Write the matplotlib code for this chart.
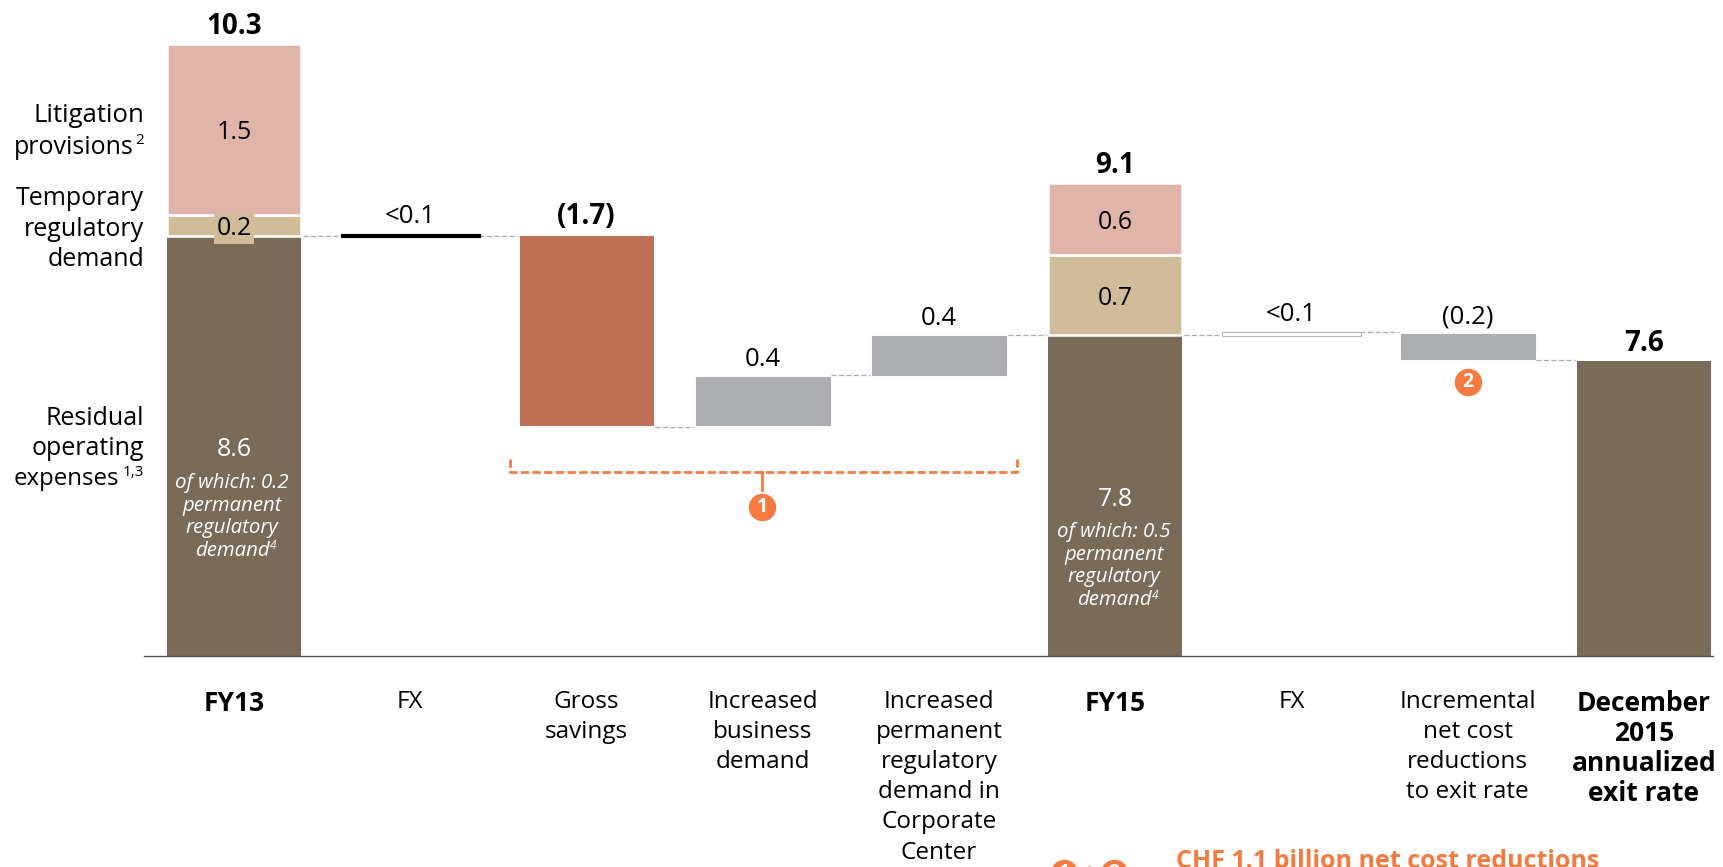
import matplotlib
matplotlib.use('Agg')
import matplotlib.pyplot as plt
from matplotlib.transforms import Affine2D

plt.rcParams['font.family'] = ['Open Sans', 'DejaVu Sans']

# Donnees (axe tronque, la base n'est pas a zero)
positions = [0, 1, 2, 3, 4, 5, 6, 7, 8]
tick_labels = ['FY13', 'FX', 'Gross\nsavings', 'Increased\nbusiness\ndemand',
               'Increased\npermanent\nregulatory\ndemand in\nCorporate\nCenter',
               'FY15', 'FX', 'Incremental\nnet cost\nreductions\nto exit rate',
               'December\n2015\nannualized\nexit rate']
tick_bold = [True, False, False, False, False, True, False, False, True]

# Barres empilees : FY13, FY15, sortie decembre 2015
stack_pos = [0, 5, 8]
residual = [8.60, 7.72, 7.49]
temporary = [0.18, 0.71, 0.0]
litigation = [1.52, 0.64, 0.0]

# Barres de variation
step_pos = [1, 2, 3, 4, 6, 7]
step_bottom = [8.585, 6.92, 6.92, 7.37, 7.71, 7.51]
step_top = [8.615, 8.60, 7.35, 7.71, 7.745, 7.73]
step_colors = ['#000000', '#BF7057', '#AEAFB2', '#AEAFB2', '#FFFFFF', '#AEAFB2']
step_labels = ['<0.1', '(1.7)', '0.4', '0.4', '<0.1', '(0.2)']

# Pointilles entre barres : position de depart et niveau
link_pos = [0, 1, 2, 3, 4, 5, 6, 7]
link_level = [8.60, 8.60, 6.91, 7.37, 7.72, 7.72, 7.745, 7.50]

BROWN = '#7A6A58'
PINK = '#E0B4A8'
TAN = '#D0BC98'
ORANGE = '#F47A3F'

# 1 unite = 113 px, pas d'un categorie = 176.25 px
fig = plt.figure(figsize=(17.24, 8.67), dpi=100)
ax = fig.add_axes([0, 0, 1, 1])
ax.set_xlim(-234 / 176.25, (1724 - 234) / 176.25)
ax.set_ylim(4.88 - 211 / 113, 4.88 + 656 / 113)
ax.axis('off')

# transformation en pixels pour les textes hors barres
px = Affine2D().scale(1, -1).translate(0, 867)

width = 0.76
base = 4.88
heights = [r - base for r in residual]
ax.bar(stack_pos, heights, width, bottom=base, color=BROWN, zorder=2)
ax.bar(stack_pos[:2], temporary[:2], width, bottom=residual[:2], color=TAN,
       edgecolor='white', linewidth=1.8, zorder=3)
lows2 = [a + b for a, b in zip(residual, temporary)]
ax.bar(stack_pos[:2], litigation[:2], width, bottom=lows2[:2], color=PINK,
       edgecolor='white', linewidth=1.8, zorder=3)

# Variations
for x, lo, hi, c in zip(step_pos, step_bottom, step_top, step_colors):
    w = 0.79 if c in ('#000000', '#FFFFFF') else width
    edge = '#B5B5B5' if c == '#FFFFFF' else c
    ax.bar(x, hi - lo, w, bottom=lo, color=c, edgecolor=edge, linewidth=0.8, zorder=2)

# Liens
for x, lev in zip(link_pos, link_level):
    ax.plot([x + width / 2 + 0.01, x + 1 - width / 2 - 0.01], [lev, lev],
            color='#A8A8A8', lw=0.9, ls=(0, (4, 2)), zorder=1)

# Ligne de base
ax.plot([-0.51, 8.39], [base, base], color='#555555', lw=1.0, zorder=4, clip_on=False)

# Libelles categories
for x, lab, b in zip(positions, tick_labels, tick_bold):
    ax.text(x, 4.88 - 34 / 113, lab, ha='center', va='top', fontsize=19 if b else 17.5,
            fontweight='bold' if b else 'normal', linespacing=1.34 if not b else 1.15, color='black')

# Valeurs
for x, hi, lab in zip(step_pos, step_top, step_labels):
    bold = lab == '(1.7)'
    ax.annotate(lab, (x, hi), xytext=(0, 3.5), textcoords='offset points', ha='center',
                va='bottom', fontsize=20 if bold else 18.5,
                fontweight='bold' if bold else 'normal', color='black')

totals = ['10.3', '9.1', '7.6']
tops = [r + t + l for r, t, l in zip(residual, temporary, litigation)]
for x, hi, lab in zip(stack_pos, tops, totals):
    ax.annotate(lab, (x, hi), xytext=(0, 2), textcoords='offset points', ha='center',
                va='bottom', fontsize=20, fontweight='bold', color='black')

# Valeurs dans les segments
seg_x = [0, 0, 5, 5]
seg_y = [lows2[0] + litigation[0] / 2, residual[0] + temporary[0] / 2,
         lows2[1] + litigation[1] / 2, residual[1] + temporary[1] / 2]
seg_labels = ['1.5', '0.2', '0.6', '0.7']
for x, y, lab in zip(seg_x, seg_y, seg_labels):
    ax.annotate(lab, (x, y), xytext=(0, -2.5), textcoords='offset points', ha='center', va='center',
                fontsize=18, zorder=6, annotation_clip=False,
                bbox=dict(facecolor=TAN, edgecolor='none', pad=2) if lab == '0.2' else None)

# Textes dans les barres brunes
ax.text(234, 449, '8.6', transform=px, ha='center', va='center', color='white', fontsize=18, zorder=5)
ax.text(232, 517, 'of which: 0.2\npermanent\nregulatory\ndemand', transform=px, ha='center', va='center',
        color='white', fontsize=14.7, style='italic', linespacing=1.17, zorder=5)
ax.text(270, 549, '4', transform=px, color='white', fontsize=8.5, style='italic', zorder=5)
ax.text(1115, 499, '7.8', transform=px, ha='center', va='center', color='white', fontsize=18, zorder=5)
ax.text(1114, 566, 'of which: 0.5\npermanent\nregulatory\ndemand', transform=px, ha='center', va='center',
        color='white', fontsize=14.7, style='italic', linespacing=1.17, zorder=5)
ax.text(1152, 599, '4', transform=px, color='white', fontsize=8.5, style='italic', zorder=5)

# Libelles a gauche
ax.text(144, 116, 'Litigation', transform=px, ha='right', va='center', fontsize=18.5)
ax.text(134, 147, 'provisions', transform=px, ha='right', va='center', fontsize=18)
ax.text(144, 141, '2', transform=px, ha='right', va='center', fontsize=11)
ax.text(144, 229, 'Temporary\nregulatory\ndemand', transform=px, ha='right', va='center', fontsize=18,
        linespacing=1.28)
ax.text(144, 461, 'Residual\noperating', transform=px, ha='right', va='bottom', fontsize=18, linespacing=1.28)
ax.text(119, 479, 'expenses', transform=px, ha='right', va='center', fontsize=17.3)
ax.text(144, 473, '1,3', transform=px, ha='right', va='center', fontsize=11)

# Accolade orange
ax.plot([510, 510, 1017, 1017], [459, 472, 472, 459], transform=px, color=ORANGE, lw=2, ls=(0, (3, 1.2)))
ax.plot([762, 762], [472, 490], transform=px, color=ORANGE, lw=2)


def badge(x, y, s):
    ax.scatter([x], [y], s=390, color=ORANGE, transform=px, zorder=6, linewidths=0, clip_on=False)
    ax.text(x, y, s, transform=px, ha='center', va='center', color='white', fontsize=14,
            fontweight='bold', zorder=7)


badge(762, 507, '1')
badge(1468, 382, '2')
badge(1064, 873, '1')
badge(1114, 873, '2')
ax.text(1089, 873, '+', transform=px, ha='center', va='center', color=ORANGE, fontsize=14, fontweight='bold')
ax.text(1176, 868, 'CHF 1.1 billion net cost reductions', transform=px, ha='left', va='baseline',
        color=ORANGE, fontsize=18, fontweight='bold')

plt.savefig('out.png', dpi=100)
